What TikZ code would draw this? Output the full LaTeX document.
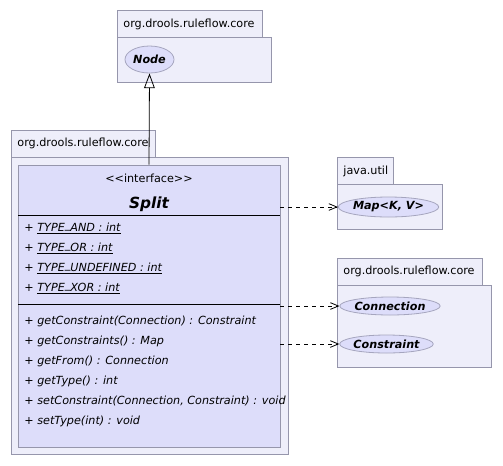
\documentclass[tikz,border=0pt]{standalone}
\usepackage{fontspec}
\setmainfont{DejaVu Sans}
\usetikzlibrary{arrows.meta,shapes.geometric}
\definecolor{pkgfill}{RGB}{238,238,250}
\definecolor{pkgline}{RGB}{150,150,172}
\definecolor{clsfill}{RGB}{221,221,250}
\definecolor{ifline}{RGB}{165,165,190}
\newcommand{\umlfont}{\fontsize{8.4}{10}\selectfont}
\newcommand{\statics}[1]{\underline{\smash{#1}}}
\newcommand{\usc}{\raisebox{1.8pt}{\_}}
\tikzset{
	pkg/.style={draw=pkgline,fill=pkgfill},
	classbox/.style={draw=pkgline,fill=clsfill,inner sep=0pt,minimum width=196.5pt,minimum height=211.5pt},
	iface/.style={ellipse,draw=ifline,fill=clsfill,inner sep=0pt,font=\umlfont\bfseries\itshape},
	pkgname/.style={anchor=west,inner sep=0pt,font=\umlfont},
	member/.style={anchor=west,inner sep=0pt,font=\umlfont\itshape},
	dep/.style={dashed,-{Straight Barb[length=6pt,width=5pt]}},
	inherit/.style={-{Triangle[open,length=11pt,width=8pt]}}
}
\begin{document}
\begin{tikzpicture}[x=0.75pt,y=-0.75pt,line width=0.6pt]
	\useasboundingbox (0,0) rectangle (503,465);
	\draw [pkg] (117,10) rectangle (262,37);
	\draw [pkg] (117,37) rectangle (271,82);
	\node [pkgname] (corea) at (123,24) {org.drools.ruleflow.core};
	\node [iface,minimum width=36.75pt,minimum height=20.25pt] (nodeif) at (149.5,59.5) {Node};

	\draw [pkg] (11,130) rectangle (155,157);
	\draw [pkg] (11,157) rectangle (288,454);
	\node [pkgname] (coreb) at (17,143) {org.drools.ruleflow.core};
	\node [classbox] (split) at (149,306) {};
	\node [inner sep=0pt,font=\umlfont] (stereo) at (149,178) {{<}{<}interface{>}{>}};
	\node [inner sep=0pt,font=\fontsize{11.5}{13}\selectfont\bfseries\itshape] (splitname) at (149,204) {Split};
	\draw (18,215) -- (280,215);
	\node [member] (typeand) at (24,229) {+ \statics{TYPE\usc AND : int}};
	\node [member] (typeor) at (24,249) {+ \statics{TYPE\usc OR : int}};
	\node [member] (typeundef) at (24,269) {+ \statics{TYPE\usc UNDEFINED : int}};
	\node [member] (typexor) at (24,289) {+ \statics{TYPE\usc XOR : int}};
	\draw (18,304) -- (280,304);
	\node [member] (getconstraint) at (24,321) {+ getConstraint(Connection) : Constraint};
	\node [member] (getconstraints) at (24,341) {+ getConstraints() : Map};
	\node [member] (getfrom) at (24,361) {+ getFrom() : Connection};
	\node [member] (gettype) at (24,381) {+ getType() : int};
	\node [member] (setconstraint) at (24,401) {+ setConstraint(Connection, Constraint) : void};
	\node [member] (settype) at (24,421) {+ setType(int) : void};

	\draw [pkg] (337,157) rectangle (393,184);
	\draw [pkg] (337,184) rectangle (442,229);
	\node [pkgname] (javautil) at (343,171) {java.util};
	\node [iface,minimum width=66.75pt,minimum height=15pt] (mapif) at (388.5,207) {Map<K, V>};

	\draw [pkg] (337,258) rectangle (482,285);
	\draw [pkg] (337,285) rectangle (491,367);
	\node [pkgname] (corec) at (343,271) {org.drools.ruleflow.core};
	\node [iface,minimum width=69pt,minimum height=13.5pt] (connif) at (390,306) {Connection};
	\node [iface,minimum width=63.75pt,minimum height=13.5pt] (constrif) at (386.5,344) {Constraint};

	\draw [inherit] (split.north) -- (nodeif.south);
	\draw [dep] (split.east |- mapif.west) -- (mapif.west);
	\draw [dep] (split.east |- connif.west) -- (connif.west);
	\draw [dep] (split.east |- constrif.west) -- (constrif.west);
\end{tikzpicture}
\end{document}
